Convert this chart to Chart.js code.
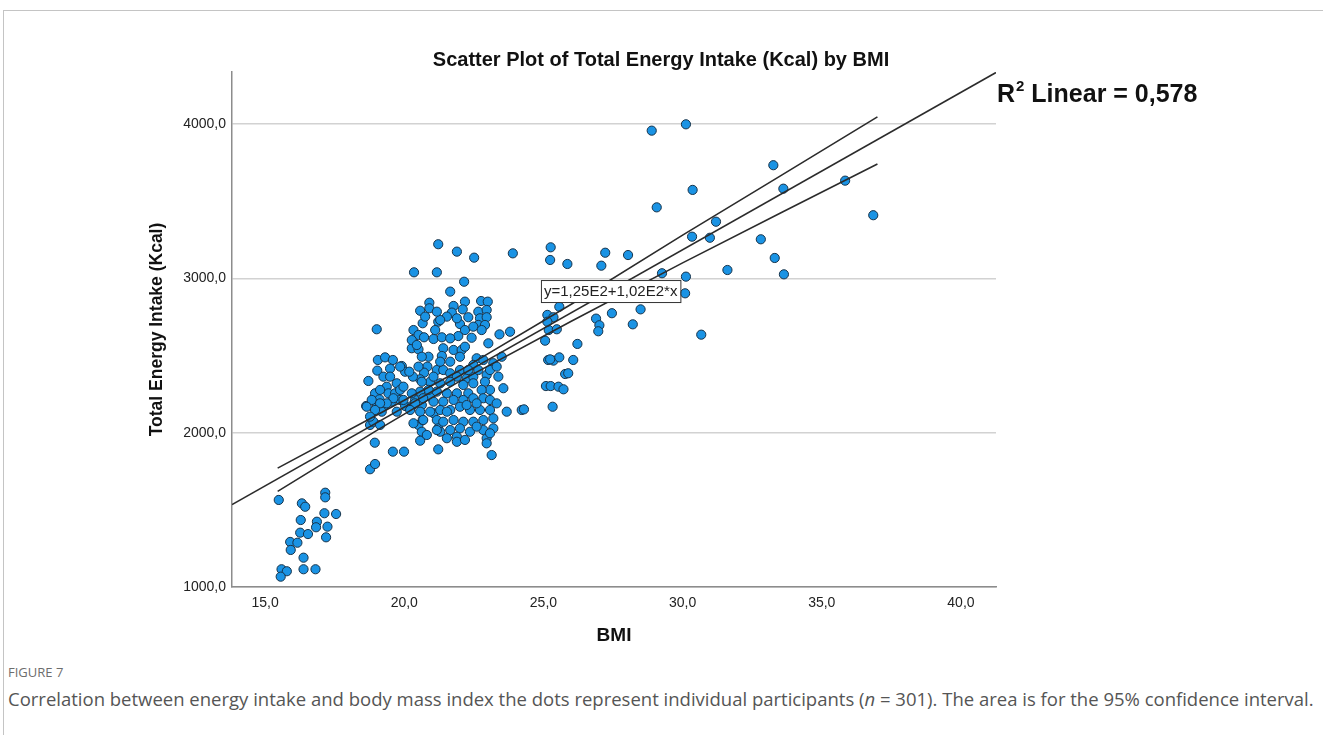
<!DOCTYPE html>
<html>
<head>
<meta charset="utf-8">
<script src="https://cdn.jsdelivr.net/npm/chart.js@4.4.1/dist/chart.umd.min.js"></script>
<style>
  body { margin: 0; background: #fff; width: 1323px; height: 735px; overflow: hidden; position: relative; }
  .frame { position: absolute; left: 3px; top: 10px; right: 0; bottom: 0; border-top: 1px solid #c4c4c4; border-left: 1px solid #c4c4c4; }
  #wrap { position: absolute; left: 0; top: 0; width: 1323px; height: 660px; }
  .fig { position: absolute; left: 8px; top: 663px; font-family: "Open Sans", sans-serif; font-size: 13px; color: #6d6d6d; }
  .cap { position: absolute; left: 8px; top: 686px; font-family: "Open Sans", sans-serif; font-size: 18.5px; color: #555; white-space: nowrap; }
</style>
</head>
<body>
<div class="frame"></div>
<div id="wrap"><canvas id="chart"></canvas></div>
<div class="fig">FIGURE 7</div>
<div class="cap">Correlation between energy intake and body mass index the dots represent individual participants (<i>n</i> = 301). The area is for the 95% confidence interval.</div>
<script>
// Точки: ИМТ и суточная энергия (ккал)
const bmi = [
  15.49, 16.32, 16.44, 17.16, 17.16, 16.28, 16.86, 16.83, 17.13, 17.55, 17.24, 17.19, 16.26, 16.54, 15.90, 16.16, 15.92, 16.38, 15.59, 15.78, 15.56, 16.38, 16.81,
  19.01, 18.71, 18.63, 18.77, 18.89, 19.13, 18.94, 18.77, 18.95, 19.59, 19.99, 19.05, 19.31, 19.59, 19.49, 19.91, 20.03, 19.03, 19.37, 19.73, 19.43, 19.67, 18.95, 19.11, 19.31, 19.55, 19.85, 20.03, 19.01, 18.83, 19.19,
  20.35, 21.17, 21.22, 20.57, 20.90, 20.90, 20.66, 20.33, 20.51, 20.71, 21.05, 21.22, 20.27, 20.51, 20.87, 20.83, 21.17, 20.71, 20.57, 20.93, 20.31, 20.39, 20.63, 20.93, 21.05, 20.27, 20.51, 20.66, 20.63, 20.57, 21.22, 21.05, 21.17, 21.22,
  21.89, 22.51, 23.90, 22.15, 21.65, 22.76, 23.00, 22.18, 22.10, 21.77, 21.71, 21.53, 21.29, 22.66, 22.96, 22.72, 22.96, 22.66, 22.90, 22.30, 22.00, 22.18, 21.94, 22.42, 23.42, 23.80, 23.02, 21.11, 21.35, 21.65,
  20.27, 20.45, 21.40, 21.77, 22.06, 22.18, 21.35, 22.60, 22.84, 23.50, 23.20, 22.48, 20.51, 20.18, 21.40, 21.65, 22.00, 21.89, 22.24, 22.48, 22.66, 22.96, 23.08, 23.38, 22.90, 22.48, 22.12, 21.65, 21.29, 20.63,
  23.56, 23.08, 22.78, 22.30, 21.89, 21.53, 21.17, 20.87, 20.57, 20.27, 19.85, 19.13, 22.84, 23.08, 22.48, 22.12, 21.77, 21.40, 20.68, 20.39, 19.97, 19.61, 19.37, 19.13, 18.65, 18.95, 23.08, 22.72, 22.36, 22.00,
  21.65, 21.29, 20.93, 20.57, 20.21, 19.73, 23.68, 24.22, 23.20, 22.84, 22.48, 22.12, 21.77, 21.40, 20.68, 20.33, 22.00, 21.65, 21.29, 22.84, 23.20, 22.36, 20.81, 21.89, 22.96, 21.53, 21.89, 22.96, 23.14,
  18.77, 19.25, 19.97, 20.63, 21.65, 22.00, 22.30, 21.05, 21.53, 22.24, 22.60, 23.32, 21.17, 22.60, 22.18, 23.08, 19.85, 19.49, 21.29, 23.32, 20.75, 21.17, 21.89, 22.48, 22.78,
  28.89, 30.12, 33.26, 30.36, 33.62, 29.07, 35.84, 36.85, 31.20, 30.34, 30.98, 32.81, 33.31, 33.64, 31.61, 25.26, 25.24, 25.86, 27.22, 27.08, 28.04, 29.26, 30.12, 30.09, 28.49, 27.46, 26.89, 27.01, 26.97, 28.21,
  30.67, 26.22, 25.57, 25.14, 25.36, 25.19, 25.48, 25.06, 25.14, 25.17, 25.36, 25.57, 25.24, 26.07, 25.78, 25.89, 25.09, 25.26, 25.54, 25.72, 25.33, 24.30
];
const kcal = [
  1564, 1542, 1520, 1611, 1581, 1434, 1423, 1387, 1478, 1473, 1391, 1322, 1352, 1343, 1292, 1287, 1240, 1190, 1115, 1102, 1067, 1115, 1115,
  2670, 2335, 2173, 2050, 2071, 2050, 1935, 1763, 1797, 1877, 1877, 2471, 2488, 2471, 2415, 2432, 2395, 2402, 2298, 2320, 2255, 2255, 2255, 2216, 2179, 2201, 2212, 2173, 2168, 2212, 2136,
  3039, 3039, 3221, 2790, 2842, 2806, 2709, 2665, 2633, 2618, 2607, 2719, 2547, 2540, 2492, 2428, 2406, 2389, 2346, 2330, 2363, 2212, 2179, 2233, 2201, 2173, 2050, 2082, 2006, 1948, 1892, 2126, 2082, 2028,
  3173, 3134, 3162, 2978, 2914, 2853, 2849, 2849, 2799, 2821, 2778, 2752, 2730, 2784, 2795, 2741, 2748, 2698, 2698, 2748, 2704, 2665, 2626, 2615, 2637, 2654, 2579, 2665, 2618, 2611,
  2600, 2568, 2547, 2536, 2536, 2557, 2497, 2482, 2471, 2492, 2450, 2439, 2428, 2395, 2406, 2385, 2406, 2363, 2352, 2363, 2406, 2374, 2406, 2363, 2330, 2320, 2309, 2330, 2320, 2330,
  2288, 2277, 2277, 2255, 2255, 2255, 2266, 2277, 2266, 2255, 2277, 2277, 2223, 2212, 2223, 2212, 2212, 2201, 2223, 2190, 2212, 2223, 2190, 2190, 2168, 2147, 2147, 2147, 2147, 2168,
  2147, 2147, 2136, 2136, 2147, 2136, 2136, 2147, 2093, 2082, 2071, 2071, 2082, 2071, 2082, 2061, 2028, 2017, 2006, 2017, 2028, 2006, 1985, 1974, 1964, 1964, 1941, 1931, 1855,
  2104, 2363, 2298, 2492, 2460, 2492, 2406, 2363, 2136, 2179, 2190, 2190, 2017, 2039, 1953, 1996, 2428, 2363, 2460, 2428, 2752, 2784, 2741, 2687, 2665,
  3957, 3998, 3733, 3573, 3581, 3460, 3633, 3409, 3367, 3270, 3263, 3253, 3132, 3026, 3054, 3201, 3119, 3093, 3166, 3082, 3151, 3033, 3011, 2903, 2799, 2774, 2739, 2696, 2657, 2702,
  2635, 2575, 2816, 2763, 2748, 2665, 2670, 2596, 2719, 2471, 2467, 2488, 2475, 2471, 2380, 2385, 2302, 2302, 2298, 2281, 2168, 2151
];

// Линия регрессии (концы) и границы 95% ДИ
const fitX = [13.81, 41.26];
const fitY = [1534, 4334];
const ciX = [15.45, 19, 22, 26, 30, 33.5, 37];
const ciUpper = [1770, 2113, 2404, 2832, 3280, 3662, 4046];
const ciLower = [1620, 2013, 2334, 2722, 3100, 3422, 3741];

// Деления осей
const xTickValues = [15, 20, 25, 30, 35, 40];
const yTickValues = [1000, 2000, 3000, 4000];

const chartTitle = "Scatter Plot of Total Energy Intake (Kcal) by BMI";
const equationText = "y=1,25E2+1,02E2*x";
const r2Text = "0,578";

const FONT = '"Liberation Sans", Arial, sans-serif';
const fmt = (v) => v.toFixed(1).replace(".", ",");
const toXY = (xs, ys) => xs.map((x, i) => ({ x, y: ys[i] }));

const lineStyle = {
  type: "scatter",
  showLine: true,
  borderColor: "#2b2b2b",
  borderWidth: 1.6,
  pointRadius: 0,
  fill: false,
  tension: 0,
  order: 0,
};

// Заголовок, подпись R² и уравнение
const extras = {
  id: "extras",
  afterDatasetsDraw(chart) {
    const { ctx, chartArea, scales } = chart;
    ctx.save();
    ctx.fillStyle = "#111";
    ctx.textBaseline = "middle";
    ctx.textAlign = "center";
    ctx.font = `bold 20px ${FONT}`;
    ctx.fillText(chartTitle, 661, 60);

    ctx.textAlign = "left";
    let x = chartArea.right + 1;
    ctx.font = `bold 25px ${FONT}`;
    ctx.fillText("R", x, 95);
    x += ctx.measureText("R").width + 1;
    ctx.font = `bold 15px ${FONT}`;
    ctx.fillText("2", x, 87);
    x += ctx.measureText("2").width;
    ctx.font = `bold 25px ${FONT}`;
    ctx.fillText(" Linear = " + r2Text, x, 95);

    const bx = scales.x.getPixelForValue(24.91);
    const by = scales.y.getPixelForValue(2989);
    ctx.font = `15px ${FONT}`;
    const w = ctx.measureText(equationText).width + 6;
    ctx.fillStyle = "#fff";
    ctx.fillRect(bx, by, w, 22);
    ctx.strokeStyle = "#333";
    ctx.lineWidth = 1;
    ctx.strokeRect(bx + 0.5, by + 0.5, w, 22);
    ctx.fillStyle = "#222";
    ctx.fillText(equationText, bx + 3, by + 12);
    ctx.restore();
  },
};

const ctx = document.querySelector("#chart").getContext("2d");
const chart = new Chart(ctx, {
  type: "scatter",
  data: {
    datasets: [
      { ...lineStyle, data: toXY(fitX, fitY) },
      { ...lineStyle, data: toXY(ciX, ciUpper) },
      { ...lineStyle, data: toXY(ciX, ciLower) },
      {
        data: toXY(bmi, kcal),
        pointRadius: 4.6,
        pointBackgroundColor: "#1a93e4",
        pointBorderColor: "#17334a",
        pointBorderWidth: 1,
        order: 1,
      },
    ],
  },
  options: {
    responsive: true,
    maintainAspectRatio: false,
    animation: false,
    layout: { padding: { left: 140, right: 327, top: 72, bottom: 13 } },
    scales: {
      x: {
        type: "linear",
        min: 13.81,
        max: 41.26,
        afterBuildTicks: (s) => { s.ticks = xTickValues.map((v) => ({ value: v })); },
        afterFit: (s) => { s.height = 60; },
        ticks: { callback: fmt, color: "#222", font: { family: FONT, size: 14 }, padding: 8, maxRotation: 0, autoSkip: false },
        grid: { display: false, drawTicks: false },
        border: { display: true, color: "#8c8c8c", width: 1.5 },
        title: { display: true, text: "BMI", color: "#111", font: { family: FONT, size: 19, weight: "bold" }, padding: 0 },
      },
      y: {
        type: "linear",
        min: 1000,
        max: 4337,
        afterBuildTicks: (s) => { s.ticks = yTickValues.map((v) => ({ value: v })); },
        afterFit: (s) => { s.width = 92; },
        ticks: { callback: fmt, color: "#222", font: { family: FONT, size: 14 }, padding: 6 },
        grid: { color: "#d2d2d2", lineWidth: 1.5, drawTicks: false },
        border: { display: true, color: "#8c8c8c", width: 1.5 },
        title: { display: true, text: "Total Energy Intake (Kcal)", color: "#111", font: { family: FONT, size: 17.5, weight: "bold" }, padding: { top: 7 } },
      },
    },
    plugins: {
      legend: { display: false },
      tooltip: { enabled: false },
    },
  },
  plugins: [extras],
});
</script>
</body>
</html>
